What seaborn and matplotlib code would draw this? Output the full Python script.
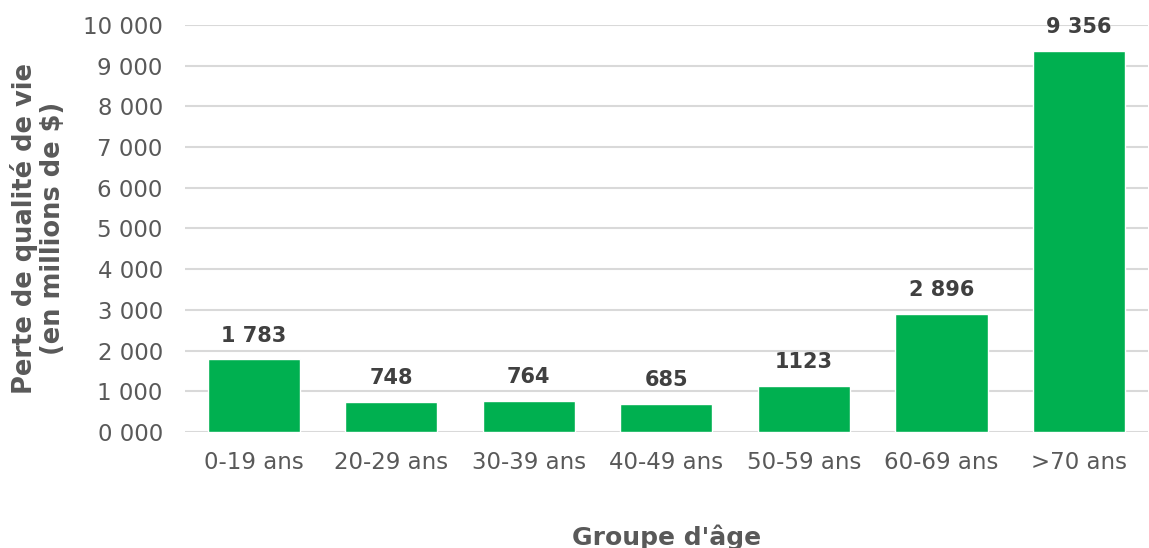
import matplotlib
matplotlib.use("Agg")
import matplotlib.pyplot as plt
import seaborn as sns
import pandas as pd

# Data
groups = ["0-19 ans", "20-29 ans", "30-39 ans", "40-49 ans", "50-59 ans", "60-69 ans", ">70 ans"]
values = [1783, 748, 764, 685, 1123, 2896, 9356]
value_labels = ["1 783", "748", "764", "685", "1123", "2 896", "9 356"]
y_ticks = [0, 1000, 2000, 3000, 4000, 5000, 6000, 7000, 8000, 9000, 10000]
y_tick_labels = ["0 000", "1 000", "2 000", "3 000", "4 000", "5 000",
                 "6 000", "7 000", "8 000", "9 000", "10 000"]

df = pd.DataFrame({"groupe": groups, "valeur": values})

sns.set_theme(style="white")
plt.rcParams["font.family"] = ["DejaVu Sans"]

green = "#00B050"
grey = "#595959"

fig = plt.figure(figsize=(11.49, 5.48), dpi=100)
ax = fig.add_axes([0.161, 0.2117, 0.838, 0.7427])

sns.barplot(data=df, x="groupe", y="valeur", color=green, width=0.67,
            saturation=1, ax=ax, zorder=3)

ax.set_ylim(0, 10000)
ax.set_yticks(y_ticks)
ax.set_yticklabels(y_tick_labels)
ax.yaxis.grid(True, color="#D9D9D9", linewidth=1.5, zorder=0)
ax.set_axisbelow(True)
for s in ax.spines.values():
    s.set_visible(False)
ax.tick_params(axis="both", length=0, labelsize=16.5, labelcolor=grey)
ax.tick_params(axis="y", pad=16)
ax.tick_params(axis="x", pad=14)

for patch, lab in zip(ax.patches, value_labels):
    ax.annotate(lab, (patch.get_x() + patch.get_width() / 2, patch.get_height()),
                xytext=(0, 10), textcoords="offset points", ha="center", va="bottom",
                fontsize=15, fontweight="bold", color="#404040", clip_on=False)

ax.set_xlabel("Groupe d'âge", fontsize=18, fontweight="bold", color=grey, labelpad=36)
ax.set_ylabel("Perte de qualité de vie\n(en millions de \\$)", fontsize=18.5,
              fontweight="bold", color=grey, labelpad=12, linespacing=1.1)

fig.savefig("out.png", dpi=100)
